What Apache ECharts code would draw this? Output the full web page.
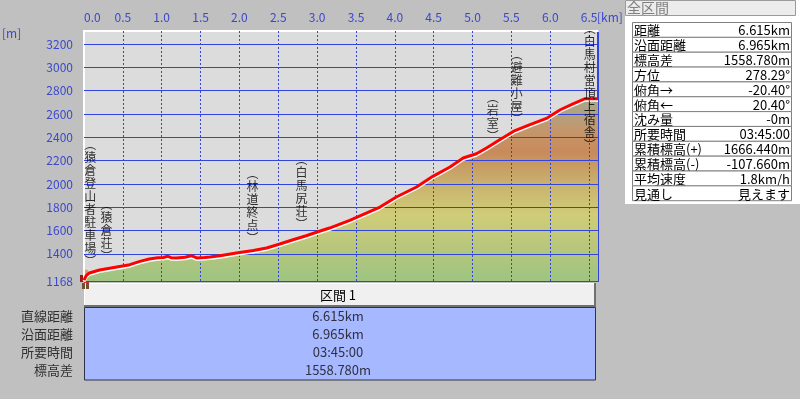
<!DOCTYPE html>
<html>
<head>
<meta charset="utf-8">
<title>断面図</title>
<script src="https://cdn.jsdelivr.net/npm/echarts@6/dist/echarts.min.js"></script>
<style>
html,body{margin:0;padding:0;background:#c0c0c0;}
#echart{width:800px;height:399px;}
</style>
</head>
<body>
<div id="echart"></div>
<script>
// 距離[km]
var distKm = [0.00,0.03,0.07,0.20,0.33,0.46,0.59,0.72,0.84,0.95,1.02,1.08,1.12,1.19,1.30,1.38,1.45,1.55,1.62,1.75,
    1.96,2.18,2.35,2.52,2.69,2.86,3.01,3.16,3.42,3.64,3.81,4.02,4.28,4.49,4.71,4.88,5.05,5.18,5.35,5.53,
    5.74,5.96,6.13,6.30,6.45,6.615];
// 標高[m]
var elevM = [1175,1215,1237,1262,1278,1293,1308,1336,1357,1368,1370,1380,1368,1365,1372,1385,1366,1370,1374,1385,
    1408,1430,1451,1485,1522,1556,1590,1622,1688,1751,1802,1888,1974,2065,2145,2222,2259,2308,2379,2452,
    2508,2565,2636,2688,2731,2731];
// 地点
var spotNames = ['猿倉登山者駐車場','猿倉荘','林道終点','白馬尻荘','岩室','避難小屋','白馬村営頂上宿舎'];
var spotKm = [0.08,0.29,2.17,2.80,5.26,5.57,6.51];
// 目盛
var elevTicks = [1168,1400,1600,1800,2000,2200,2400,2600,2800,3000,3200];
var kmLines = [0.5,1.0,1.5,2.0,2.5,3.0,3.5,4.0,4.5,5.0,5.5,6.0,6.5];
// 全区間
var summaryKeys = ['距離','沿面距離','標高差','方位','俯角→','俯角←','沈み量','所要時間','累積標高(+)','累積標高(-)','平均速度','見通し'];
var summaryVals = ['6.615km','6.965km','1558.780m','278.29°','-20.40°','20.40°','-0m','03:45:00','1666.440m','-107.660m','1.8km/h','見えます'];
// 区間
var sectionKeys = ['直線距離','沿面距離','所要時間','標高差'];
var sectionVals = ['6.615km','6.965km','03:45:00','1558.780m'];

var blueText = '#3a48cc';
var blueLine = '#3344dd';
var jp = '"Noto Sans CJK JP", sans-serif';

function tate(s) {
    return ('︵' + s + '︶').split('').join('\n');
}
function elevAt(km) {
    var best = 0;
    for (var i = 0; i < distKm.length; i++) {
        if (Math.abs(distKm[i] - km) < Math.abs(distKm[best] - km)) best = i;
    }
    return elevM[best];
}

var profile = distKm.map(function (d, i) { return [d, elevM[i]]; });
var spots = spotKm.map(function (k, i) {
    var item = { name: spotNames[i], value: [k, elevAt(k)] };
    if (i == spotKm.length - 1) {
        item.label = { position: 'inside', offset: [0, -12] };
    }
    return item;
});

var gridLines = [];
kmLines.forEach(function (v) {
    gridLines.push({ xAxis: v, lineStyle: { type: [2, 2], color: blueLine, width: 1 } });
});
elevTicks.slice(1).forEach(function (v) {
    gridLines.push({ yAxis: v, lineStyle: { type: 'solid', color: blueLine, width: 1 } });
});

// 表の図形
var g = [];
g.push({ type: 'text', left: 2, top: 27, style: { text: '[m]', fill: blueText, font: '12px ' + jp } });
g.push({ type: 'text', x: 597, y: 17, style: { text: '[km]', fill: blueText, font: '12px ' + jp, verticalAlign: 'middle' } });

g.push({ type: 'rect', shape: { x: 625, y: 0, width: 175, height: 204 }, style: { fill: '#ffffff' } });
g.push({ type: 'rect', shape: { x: 625.5, y: 0.5, width: 170, height: 15 }, style: { fill: '#ececec', stroke: '#9a9a9a' } });
g.push({ type: 'text', x: 627, y: 8, style: { text: '全区間', fill: '#808080', font: '14px ' + jp, verticalAlign: 'middle' } });
var rowH = 14.85;
summaryKeys.forEach(function (k, i) {
    var y = 22.5 + i * rowH;
    g.push({ type: 'rect', shape: { x: 632.5, y: y, width: 159, height: rowH }, style: { fill: '#ffffff', stroke: '#808080' } });
    g.push({ type: 'text', x: 634, y: y + rowH / 2 + 0.5, style: { text: k, fill: '#000', font: '13px ' + jp, verticalAlign: 'middle' } });
    g.push({ type: 'text', x: 790, y: y + rowH / 2 + 0.5, style: { text: summaryVals[i], fill: '#000', font: '13px ' + jp, verticalAlign: 'middle', align: 'right' } });
});

g.push({ type: 'rect', shape: { x: 84.5, y: 283.5, width: 511, height: 23 }, style: { fill: '#f0f0f0', stroke: '#ffffff' } });
g.push({ type: 'polyline', shape: { points: [[595, 283], [595, 306], [84, 306]] }, style: { stroke: '#707070', lineWidth: 2, fill: null } });
g.push({ type: 'text', x: 338, y: 295, style: { text: '区間 1', fill: '#000', font: '13px ' + jp, align: 'center', verticalAlign: 'middle' } });
g.push({ type: 'rect', shape: { x: 84.5, y: 307.5, width: 511, height: 72.5 }, style: { fill: '#a6b8ff', stroke: '#303048' } });
sectionKeys.forEach(function (k, i) {
    var y = 316.5 + i * 17.8;
    g.push({ type: 'text', x: 73, y: y, style: { text: k, fill: '#303030', font: '13px ' + jp, align: 'right', verticalAlign: 'middle' } });
    g.push({ type: 'text', x: 338, y: y, style: { text: sectionVals[i], fill: '#303040', font: '13px ' + jp, align: 'center', verticalAlign: 'middle' } });
});

// 登山者
g.push({ type: 'group', z: 20, children: [
    { type: 'rect', shape: { x: 80, y: 275, width: 5, height: 7 }, style: { fill: '#a01818' } },
    { type: 'rect', shape: { x: 84, y: 275, width: 5, height: 8 }, style: { fill: '#c83030' } },
    { type: 'circle', shape: { cx: 86, cy: 272, r: 2.5 }, style: { fill: '#e0a070' } },
    { type: 'rect', shape: { x: 82, y: 283, width: 3, height: 6 }, style: { fill: '#705030' } },
    { type: 'rect', shape: { x: 86, y: 283, width: 3, height: 6 }, style: { fill: '#705030' } }
] });

var myChart = echarts.init(document.getElementById('echart'));
var option = {
    backgroundColor: '#c0c0c0',
    animation: false,
    grid: { left: 84, right: 202, top: 31, bottom: 118, show: true, backgroundColor: '#dcdcdc', borderWidth: 0 },
    xAxis: [{
        type: 'value', position: 'top', min: 0, max: 6.615, interval: 0.5,
        axisLine: { show: true, onZero: false, lineStyle: { color: '#ffffff', width: 2 } },
        axisTick: { show: false },
        splitLine: { show: false },
        axisLabel: {
            margin: 8, color: blueText, fontSize: 12, fontFamily: jp,
            showMaxLabel: false, alignMinLabel: 'left',
            formatter: function (v) { return v.toFixed(1); }
        }
    }, {
        type: 'value', position: 'bottom', min: 0, max: 6.615,
        axisLine: { show: true, onZero: false, lineStyle: { color: blueLine, width: 2 } },
        axisTick: { show: false }, axisLabel: { show: false }, splitLine: { show: false }
    }],
    yAxis: [{
        type: 'value', min: 1168, max: 3311,
        axisLine: { show: true, onZero: false, lineStyle: { color: '#ffffff', width: 2 } },
        axisTick: { show: false },
        splitLine: { show: false },
        axisLabel: {
            margin: 11, color: blueText, fontSize: 12, fontFamily: jp, customValues: elevTicks,
            formatter: function (v) { return String(v); }
        }
    }, {
        type: 'value', position: 'right', min: 1168, max: 3311,
        axisLine: { show: true, onZero: false, lineStyle: { color: blueLine, width: 2 } },
        axisTick: { show: false }, axisLabel: { show: false }, splitLine: { show: false }
    }],
    series: [{
        // 塗り
        type: 'line', data: profile, symbol: 'none', z: 2,
        lineStyle: { width: 0 },
        areaStyle: {
            origin: 'start', opacity: 1,
            color: new echarts.graphic.LinearGradient(0, 0, 0, 1, [
                { offset: 0, color: '#a3aa8e' },
                { offset: 0.18, color: '#c4966a' },
                { offset: 0.29, color: '#c88a5c' },
                { offset: 0.48, color: '#c9b46e' },
                { offset: 0.64, color: '#cfcd78' },
                { offset: 0.83, color: '#b5c67d' },
                { offset: 1, color: '#9ec482' }
            ])
        },
        markLine: { silent: true, symbol: ['none', 'none'], label: { show: false }, data: gridLines }
    }, {
        // 断面線
        type: 'line', data: profile, symbol: 'none', z: 10,
        lineStyle: { color: '#ff0000', width: 3, shadowColor: '#ffffff', shadowOffsetY: 1.5, shadowBlur: 0 }
    }, {
        // 地点名
        type: 'scatter', data: spots, symbolSize: 0, z: 11,
        label: {
            show: true, position: 'top', distance: 5,
            color: '#000', fontSize: 12, lineHeight: 13, fontFamily: jp,
            formatter: function (p) { return tate(p.name); }
        }
    }],
    graphic: g
};
myChart.setOption(option);
</script>
</body>
</html>
